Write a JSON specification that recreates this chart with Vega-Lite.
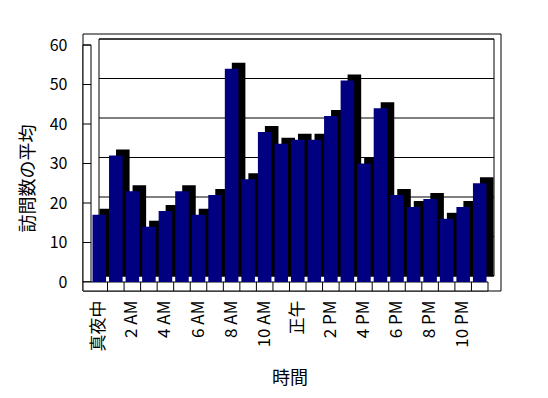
{
  "$schema": "https://vega.github.io/schema/vega-lite/v6.json",
  "width": 397,
  "height": 237,
  "autosize": "none",
  "padding": {"left": 91, "top": 45, "right": 60, "bottom": 116},
  "background": "white",
  "config": {
    "view": {"stroke": null},
    "font": "Noto Sans CJK JP",
    "axisY": {
      "titleFontSize": 18, "titleFontWeight": "normal", "titleColor": "black", "titlePadding": 12,
      "tickCount": 7, "labelFontSize": 16, "labelColor": "black", "labelPadding": 16,
      "offset": 8, "domain": false, "ticks": false, "grid": false, "labelOverlap": false
    }
  },
  "datasets": {
    "visits": [
      {"hour": 0, "visits": 17}, {"hour": 1, "visits": 32}, {"hour": 2, "visits": 23}, {"hour": 3, "visits": 14},
      {"hour": 4, "visits": 18}, {"hour": 5, "visits": 23}, {"hour": 6, "visits": 17}, {"hour": 7, "visits": 22},
      {"hour": 8, "visits": 54}, {"hour": 9, "visits": 26}, {"hour": 10, "visits": 38}, {"hour": 11, "visits": 35},
      {"hour": 12, "visits": 36}, {"hour": 13, "visits": 36}, {"hour": 14, "visits": 42}, {"hour": 15, "visits": 51},
      {"hour": 16, "visits": 30}, {"hour": 17, "visits": 44}, {"hour": 18, "visits": 22}, {"hour": 19, "visits": 19},
      {"hour": 20, "visits": 21}, {"hour": 21, "visits": 16}, {"hour": 22, "visits": 19}, {"hour": 23, "visits": 25}
    ],
    "grid": [{"v": 0}, {"v": 10}, {"v": 20}, {"v": 30}, {"v": 40}, {"v": 50}, {"v": 60}],
    "one": [{"wall": "x"}]
  },
  "resolve": {"scale": {"x": "independent"}, "axis": {"x": "independent"}},
  "layer": [
    {
      "data": {"name": "one"},
      "mark": {"type": "rect", "fill": "white", "stroke": "black", "strokeWidth": 1, "xOffset": -8, "x2Offset": 13, "yOffset": -11, "y2Offset": 9},
      "encoding": {
        "x": {"datum": 0, "type": "quantitative", "scale": {"domain": [0, 1]}, "axis": null},
        "x2": {"datum": 1},
        "y": {
          "datum": 60, "type": "quantitative", "scale": {"domain": [0, 60], "nice": false},
          "title": "訪問数の平均",
          "axis": {
            "title": "訪問数の平均", "titleY": 133,
            "values": [0, 10, 20, 30, 40, 50, 60], "labelFontSize": 16, "labelColor": "black", "labelPadding": 16,
            "offset": 8, "domain": false, "ticks": false, "grid": false, "labelOverlap": false
          }
        },
        "y2": {"datum": 0}
      }
    },
    {
      "data": {"name": "one"},
      "mark": {"type": "rect", "fill": "white", "stroke": "black", "strokeWidth": 1, "xOffset": 8, "x2Offset": 6, "yOffset": -6, "y2Offset": -6},
      "encoding": {
        "x": {"datum": 0, "type": "quantitative", "scale": {"domain": [0, 1]}, "axis": null},
        "x2": {"datum": 1},
        "y": {"datum": 60, "type": "quantitative", "title": "訪問数の平均"},
        "y2": {"datum": 0}
      }
    },
    {
      "data": {"name": "grid"},
      "mark": {"type": "rule", "color": "black", "strokeWidth": 1, "xOffset": 8, "x2Offset": 6, "yOffset": -6},
      "encoding": {
        "x": {"datum": 0, "type": "quantitative", "scale": {"domain": [0, 1]}, "axis": null},
        "x2": {"datum": 1},
        "y": {"field": "v", "type": "quantitative", "title": "訪問数の平均"}
      }
    },
    {
      "data": {"name": "one"},
      "mark": {"type": "rect", "fill": "white", "stroke": "black", "strokeWidth": 1, "xOffset": -8},
      "encoding": {
        "x": {"datum": 0, "type": "quantitative", "scale": {"domain": [0, 1]}, "axis": null},
        "x2": {"datum": 0},
        "y": {"datum": 60, "type": "quantitative", "title": "訪問数の平均"},
        "y2": {"datum": 0}
      }
    },
    {
      "data": {"name": "grid"},
      "mark": {"type": "rule", "color": "black", "strokeWidth": 1, "xOffset": -8},
      "encoding": {
        "x": {"datum": 0, "type": "quantitative", "scale": {"domain": [0, 1]}, "axis": null},
        "x2": {"datum": 0},
        "y": {"field": "v", "type": "quantitative", "title": "訪問数の平均"}
      }
    },
    {
      "data": {"name": "one"},
      "mark": {"type": "rect", "fill": "white", "stroke": "black", "strokeWidth": 1, "xOffset": -8, "y2Offset": 9},
      "encoding": {
        "x": {"datum": 0, "type": "quantitative", "scale": {"domain": [0, 1]}, "axis": null},
        "x2": {"datum": 1},
        "y": {"datum": 0, "type": "quantitative", "title": "訪問数の平均"},
        "y2": {"datum": 0}
      }
    },
    {
      "data": {"name": "visits"},
      "transform": [{"filter": "datum.hour > 0"}],
      "mark": {"type": "rule", "color": "black", "strokeWidth": 1, "xOffset": -1.5, "y2Offset": 9},
      "encoding": {
        "x": {"field": "hour", "type": "ordinal", "bandPosition": 0, "scale": {"domain": [0,1,2,3,4,5,6,7,8,9,10,11,12,13,14,15,16,17,18,19,20,21,22,23], "paddingInner": 0.18, "paddingOuter": 0.09}, "axis": null},
        "y": {"datum": 0, "type": "quantitative", "title": "訪問数の平均"},
        "y2": {"datum": 0}
      }
    },
    {
      "data": {"name": "visits"},
      "mark": {"type": "bar", "color": "black", "xOffset": 7, "yOffset": -6, "y2Offset": -6},
      "encoding": {
        "x": {"field": "hour", "type": "ordinal", "scale": {"paddingInner": 0.18, "paddingOuter": 0.09}, "axis": null},
        "y": {"field": "visits", "type": "quantitative", "title": "訪問数の平均"}
      }
    },
    {
      "data": {"name": "visits"},
      "mark": {"type": "bar", "color": "#000080"},
      "encoding": {
        "x": {
          "field": "hour", "type": "ordinal",
          "scale": {"paddingInner": 0.18, "paddingOuter": 0.09},
          "axis": {
            "orient": "bottom",
            "title": "時間", "titleFontSize": 18, "titleFontWeight": "normal", "titleColor": "black", "titlePadding": 19,
            "labelAngle": -90, "labelFontSize": 17, "labelColor": "black", "labelPadding": 18,
            "labelExpr": "datum.value % 2 ? '' : (datum.value == 0 ? '真夜中' : (datum.value == 12 ? '正午' : (datum.value < 12 ? datum.value + ' AM' : (datum.value - 12) + ' PM')))",
            "domain": false, "ticks": false, "grid": false, "labelOverlap": false
          }
        },
        "y": {"field": "visits", "type": "quantitative", "title": "訪問数の平均"}
      }
    }
  ]
}
